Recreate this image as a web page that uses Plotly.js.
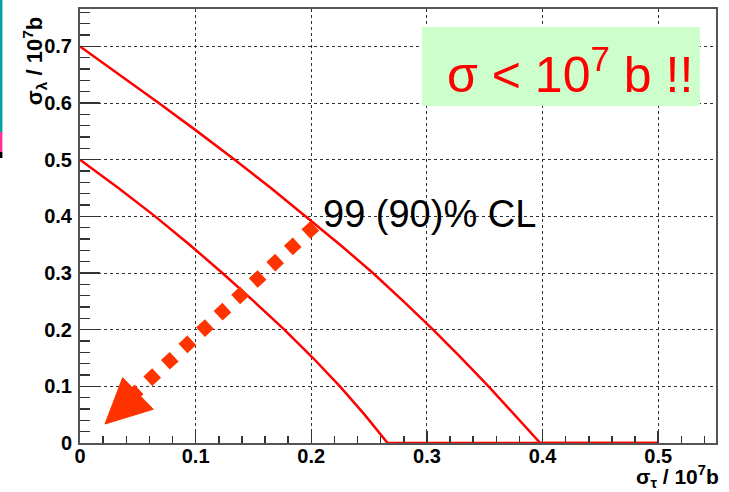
<!DOCTYPE html>
<html>
<head>
<meta charset="utf-8">
<script src="https://cdn.plot.ly/plotly-3.0.1.min.js"></script>
<style>html,body{margin:0;padding:0;background:#fff;}#chart{width:729px;height:492px;}</style>
</head>
<body>
<div id="chart"></div>
<script>
// Contour values (sigma_tau, sigma_lambda in units of 10^7 b)
const cl99X = [0, 0.0343, 0.0681, 0.1014, 0.1338, 0.1651, 0.1955, 0.2249, 0.2533, 0.2798, 0.3053, 0.3298, 0.3533, 0.3759, 0.398, 0.5];
const cl99Y = [0.7, 0.65, 0.6, 0.55, 0.5, 0.45, 0.4, 0.35, 0.3, 0.25, 0.2, 0.15, 0.1, 0.05, 0, 0];
const cl90X = [0, 0.0332, 0.065, 0.0948, 0.1231, 0.1504, 0.1767, 0.2015, 0.2248, 0.2461, 0.266, 0.5];
const cl90Y = [0.5, 0.45, 0.4, 0.35, 0.3, 0.25, 0.2, 0.15, 0.1, 0.05, 0, 0];

const xTitle = 'σ<sub>τ</sub> / 10<sup>7</sup>b';
const yTitle = 'σ<sub>λ</sub> / 10<sup>7</sup>b';
const clLabel = '99 (90)% CL';
const boxLabel = 'σ < 10<sup>7</sup> b !!';

// decoration geometry (arrow + box), in axis units
const arrowStart = [0.2030, 0.3832];
const arrowEnd = [0.0458, 0.0847];
const headTip = [0.0216, 0.0335];
const headA = [0.0369, 0.1152];
const headB = [0.0634, 0.0595];
const boxX = [0.2957, 0.5361];
const boxY = [0.5948, 0.7342];

const red = '#ff0000';
const arrowCol = '#ff3300';
const fam = 'Liberation Sans, Arial, sans-serif';
const tickFont = {family: fam, size: 20, color: '#000', weight: 'bold'};

const traces = [
  {x: cl99X, y: cl99Y, type: 'scatter', mode: 'lines', line: {color: red, width: 2.5}, hoverinfo: 'skip'},
  {x: cl90X, y: cl90Y, type: 'scatter', mode: 'lines', line: {color: red, width: 2.5}, hoverinfo: 'skip'}
];

const axisCommon = {
  showline: true, mirror: true, linecolor: '#555', linewidth: 2,
  showgrid: true, gridcolor: '#333', griddash: 'dot', gridwidth: 1,
  zeroline: false, tickfont: tickFont, tickcolor: '#333', tickwidth: 1.5,
  ticks: 'inside', tick0: 0, dtick: 0.1
};

const layout = {
  width: 729, height: 492,
  margin: {l: 80, r: 13, t: 9, b: 49},
  paper_bgcolor: '#fff', plot_bgcolor: '#fff',
  showlegend: false,
  xaxis: Object.assign({}, axisCommon, {
    range: [0, 0.55], ticklen: 12, ticklabelstandoff: -6,
    minor: {ticks: 'inside', ticklen: 7, dtick: 0.02, tick0: 0, tickcolor: '#333', tickwidth: 1.5, showgrid: false}
  }),
  yaxis: Object.assign({}, axisCommon, {
    range: [0, 0.766], ticklen: 20, ticklabelstandoff: 2,
    minor: {ticks: 'inside', ticklen: 10, dtick: 0.02, tick0: 0, tickcolor: '#333', tickwidth: 1.5, showgrid: false}
  }),
  shapes: [
    {type: 'rect', xref: 'x', yref: 'y', x0: boxX[0], x1: boxX[1], y0: boxY[0], y1: boxY[1],
     fillcolor: '#ccffcc', line: {width: 0}, layer: 'above'},
    {type: 'line', xref: 'x', yref: 'y', x0: arrowStart[0], y0: arrowStart[1], x1: arrowEnd[0], y1: arrowEnd[1],
     line: {color: arrowCol, width: 13, dash: '12px,12px'}, layer: 'above'},
    {type: 'path', xref: 'x', yref: 'y',
     path: 'M' + headTip[0] + ',' + headTip[1] + ' L' + headA[0] + ',' + headA[1] + ' L' + headB[0] + ',' + headB[1] + ' Z',
     fillcolor: arrowCol, line: {color: arrowCol, width: 1}, layer: 'above'},
    // slide-edge decoration at far left
    {type: 'rect', xref: 'paper', yref: 'paper', x0: -0.1267, x1: -0.1220, y0: 0.7166, y1: 1.03,
     fillcolor: '#00a3a3', line: {width: 0}},
    {type: 'rect', xref: 'paper', yref: 'paper', x0: -0.1267, x1: -0.1220, y0: 0.6705, y1: 0.7166,
     fillcolor: '#ff3399', line: {width: 0}},
    {type: 'rect', xref: 'paper', yref: 'paper', x0: -0.1267, x1: -0.1220, y0: 0.6567, y1: 0.6705,
     fillcolor: '#000', line: {width: 0}}
  ],
  annotations: [
    {text: clLabel, xref: 'x', yref: 'y', x: 0.2093, y: 0.4042, xanchor: 'left', yanchor: 'middle',
     showarrow: false, borderpad: 0, font: {family: fam, size: 38, color: '#000'}},
    {text: boxLabel, xref: 'x', yref: 'y', x: 0.4237, y: 0.6566, xanchor: 'center', yanchor: 'middle',
     showarrow: false, borderpad: 0, font: {family: fam, size: 50, color: red}},
    {text: yTitle, xref: 'paper', yref: 'paper', x: -0.072, y: 0.88, xanchor: 'center', yanchor: 'middle',
     textangle: -90, showarrow: false, font: {family: fam, size: 22, color: '#000', weight: 'bold'}},
    {text: xTitle, xref: 'paper', yref: 'paper', x: 1.0085, y: -0.078, xanchor: 'right', yanchor: 'middle',
     showarrow: false, font: {family: fam, size: 21, color: '#000', weight: 'bold'}}
  ]
};

Plotly.newPlot('chart', traces, layout, {staticPlot: true, displayModeBar: false});
</script>
</body>
</html>
